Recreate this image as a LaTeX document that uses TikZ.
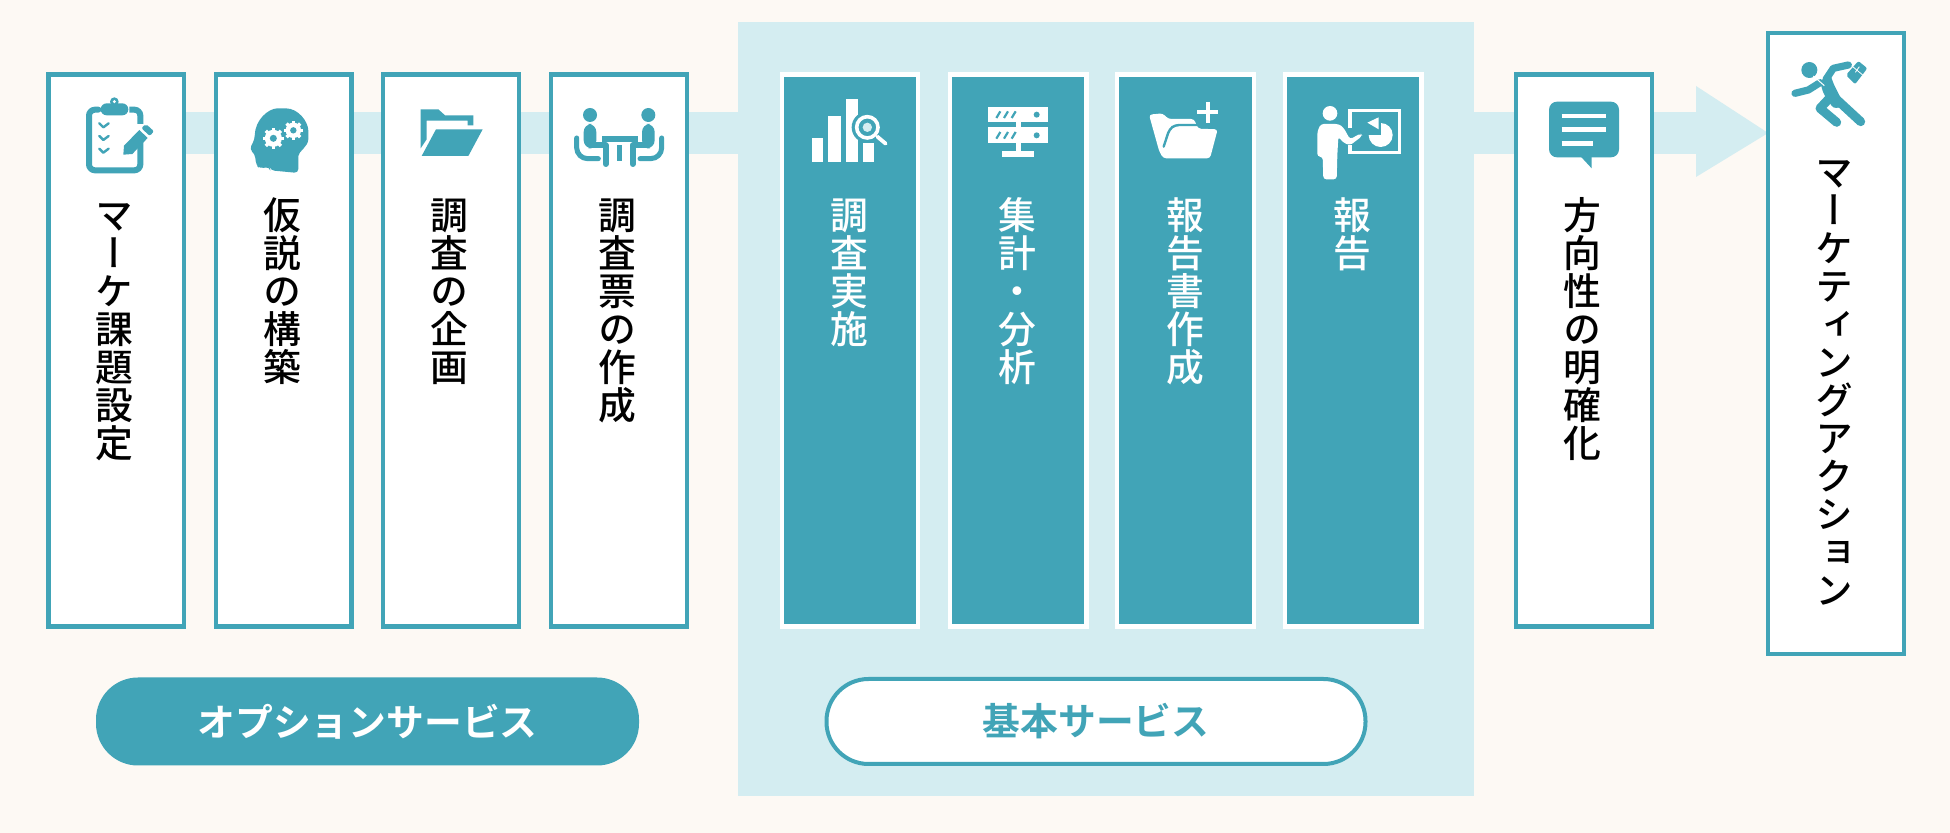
\documentclass[tikz,border=0pt]{standalone}
\usepackage{fontspec}
\usetikzlibrary{calc}
\setmainfont{Noto Sans CJK JP}
\newfontfamily\cjkv[RawFeature={+vert}]{Noto Sans CJK JP Medium}
\newfontfamily\cjkb{Noto Sans CJK JP Bold}
\definecolor{teal1}{HTML}{41A4B7}
\definecolor{light1}{HTML}{D4EDF1}
\definecolor{paper1}{HTML}{FDF9F4}
\pgfdeclarelayer{backlayer}
\pgfsetlayers{backlayer,main}
\tikzset{
  boxw/.style={draw=teal1,fill=white,line width=2.15pt,rectangle,minimum width=67.85pt,minimum height=276pt,inner sep=0pt,outer sep=0pt},
  boxt/.style={draw=white,fill=teal1,line width=2.15pt,rectangle,minimum width=68.3pt,minimum height=276pt,inner sep=0pt,outer sep=0pt},
  vtext/.style={anchor=north,align=center,inner sep=0pt,outer sep=0pt,font=\cjkv\fontsize{18.9pt}{19pt}\selectfont},
  pill/.style={rectangle,rounded corners=21pt,line width=2pt,minimum height=42.5pt,inner sep=0pt,font=\cjkb\fontsize{18.9pt}{20pt}\selectfont},
  t/.style={fill=teal1},
  w/.style={fill=white},
  ts/.style={draw=teal1,line cap=round,line join=round},
  ws/.style={draw=white,line cap=round,line join=round},
}
\newcommand{\fs}{\rule{0pt}{16.2pt}}
\newcommand{\gearw}[3]{%
  \foreach \a in {0,45,...,315}{\draw[white,line width=1.7pt] ($(#1,#2)+(\a:#3*0.7)$) -- ($(#1,#2)+(\a:#3)$);}
  \fill[white] (#1,#2) circle[radius=#3*0.8];
  \fill[teal1] (#1,#2) circle[radius=#3*0.33];}
\begin{document}
\begin{tikzpicture}[x=0.5pt,y=-0.5pt]
\useasboundingbox (0,0) rectangle (1950,833);

% boxes
\node[boxw] (b1) at (116.25,350.5) {};
\node[boxw] (b2) at (283.5,350.5) {};
\node[boxw] (b3) at (451,350.5) {};
\node[boxw] (b4) at (619,350.5) {};
\node[boxt] (c1) at (850,350.5) {};
\node[boxt] (c2) at (1018.25,350.5) {};
\node[boxt] (c3) at (1185.5,350.5) {};
\node[boxt] (c4) at (1353.25,350.5) {};
\node[boxw] (b5) at (1584,350.5) {};
\node[boxw,minimum height=310.4pt] (b6) at (1836,343.5) {};

% band and arrow (behind the boxes)
\begin{pgfonlayer}{backlayer}
\fill[paper1] (0,0) rectangle (1950,833);
\fill[light1] (737.5,22.5) rectangle (1474,796);
\coordinate (bs) at (b1.east |- 0,133);
\coordinate (be) at (1696,133);
\coordinate (tip) at (b6.west |- 0,133);
\draw[light1,line width=21pt] (bs) -- (be);
\fill[light1] (1696,86) -- (tip) -- (1696,177) -- cycle;
\end{pgfonlayer}

% labels
\node[vtext] (t1) at (114.5,197) {\fs マ\\ー\\ケ\\課\\題\\設\\定};
\node[vtext] (t2) at (282,197) {\fs 仮\\説\\の\\構\\築};
\node[vtext] (t3) at (449.5,197) {\fs 調\\査\\の\\企\\画};
\node[vtext] (t4) at (617.5,197) {\fs 調\\査\\票\\の\\作\\成};
\node[vtext,text=white] (t5) at (849.5,197) {\fs 調\\査\\実\\施};
\node[vtext,text=white] (t6) at (1017.5,197) {\fs 集\\計\\・\\分\\析};
\node[vtext,text=white] (t7) at (1185,197) {\fs 報\\告\\書\\作\\成};
\node[vtext,text=white] (t8) at (1352.5,197) {\fs 報\\告};
\node[vtext] (t9) at (1582.5,197) {\fs 方\\向\\性\\の\\明\\確\\化};
\node[vtext] (t10) at (1834.5,154) {\fs マ\\ー\\ケ\\テ\\ィ\\ン\\グ\\ア\\ク\\シ\\ョ\\ン};

% pills
\node[pill,fill=teal1,text=white,minimum width=271.5pt,minimum height=44pt] (p1) at (367.5,721.5) {オプションサービス};
\node[pill,draw=teal1,fill=white,text=teal1,minimum width=269.5pt] (p2) at (1096,721.5) {基本サービス};

% clipboard
\begin{scope}[shift={(60,80)},x=0.16667pt,y=-0.16667pt]
\draw[ts,line width=3pt,rounded corners=3pt] (115,89) -- (87,89) -- (87,271) -- (241,271) -- (241,188);
\draw[ts,line width=3pt,rounded corners=3pt,line cap=butt] (208,89) -- (241,89) -- (241,132);
\fill[t,rounded corners=3pt] (122,70) rectangle (205,106);
\fill[t] (163,65) circle[radius=13];
\fill[w] (163,65) circle[radius=5];
\foreach \yy in {130,168,206}{\draw[ts,line width=1.2pt] (118,\yy) -- (130,\yy+12) -- (146,\yy);}
\fill[t] (190,224) -- (192,197) -- (238,150) -- (263,174) -- (217,222) -- cycle;
\fill[t,rounded corners=1pt] (244,144) -- (258,132) -- (282,154) -- (269,168) -- cycle;
\end{scope}

% head with gears
\begin{scope}[shift={(60,80)},x=0.16667pt,y=-0.16667pt]
\fill[t,rounded corners=2pt] (715,279) -- (631,271) -- (628,260) -- (600,266) -- (588,255) -- (585,222) -- (568,208) -- (584,178) .. controls (585,120) and (625,85) .. (665,85) .. controls (715,85) and (745,125) .. (745,165) .. controls (745,200) and (715,215) .. (715,240) -- cycle;
\gearw{640}{175}{32}
\gearw{700}{151}{29}
\end{scope}

% open folder
\begin{scope}[shift={(400,80)},x=0.16667pt,y=-0.16667pt]
\fill[t] (62,88) -- (115,88) -- (135,106) -- (220,106) -- (220,136) -- (203,136) -- (203,122) -- (80,122) -- (80,178) -- (62,205) -- cycle;
\fill[t] (108,148) -- (248,148) -- (205,228) -- (65,228) -- cycle;
\end{scope}

% meeting
\begin{scope}[shift={(400,80)},x=0.16667pt,y=-0.16667pt]
\foreach \m/\sg in {0/1,1315/-1}{
\begin{scope}[shift={(\m,0)},xscale=\sg]
\fill[t] (570,105) circle[radius=21];
\fill[t,rounded corners=4pt] (551,132) rectangle (589,205);
\draw[ts,line width=3pt] (575,196) -- (617,196) -- (617,252);
\draw[ts,line width=2.5pt,rounded corners=5.5pt] (530,174) -- (530,236) -- (595,236);
\end{scope}}
\fill[t] (605,168) rectangle (715,186);
\fill[t] (650,196) rectangle (665,242);
\end{scope}

% bars and magnifier
\begin{scope}[shift={(790,80)},x=0.16667pt,y=-0.16667pt]
\fill[w] (65,175) rectangle (100,247);
\fill[w] (115,108) rectangle (152,247);
\fill[w] (167,58) rectangle (203,247);
\fill[w] (218,190) rectangle (253,247);
\fill[t] (232,142) circle[radius=47];
\draw[white,line width=1.8pt] (232,142) circle[radius=32];
\fill[light1] (232,142) circle[radius=14];
\draw[ws,line width=1.9pt] (262,170) -- (287,191);
\end{scope}

% server
\begin{scope}[shift={(790,80)},x=0.16667pt,y=-0.16667pt]
\fill[w] (595,80) rectangle (775,127);
\fill[w] (595,142) rectangle (775,190);
\foreach \yy in {104,166}{
  \foreach \xx in {625,648,671}{\draw[draw=teal1,line width=1.1pt] (\xx-6,\yy+10) -- (\xx+6,\yy-10);}
  \fill[t] (740,\yy) circle[radius=9];}
\fill[w] (678,125) rectangle (692,144);
\fill[w] (677,190) rectangle (692,225);
\fill[w] (637,214) rectangle (733,232);
\end{scope}

% folder plus
\begin{scope}[shift={(1130,80)},x=0.16667pt,y=-0.16667pt]
\fill[w,rounded corners=1.5pt] (57,104) -- (98,100) -- (115,117) -- (192,117) -- (204,146) -- (263,148) -- (240,235) -- (100,235) -- (88,215) -- cycle;
\draw[ts,line width=1.2pt,rounded corners=2pt] (101,200) -- (118,148) -- (135,135) -- (215,135);
\draw[white,line width=2pt] (233,66) -- (233,128);
\draw[white,line width=2pt] (202,97) -- (265,97);
\end{scope}

% presenter
\begin{scope}[shift={(1130,80)},x=0.16667pt,y=-0.16667pt]
\fill[w] (600,100) circle[radius=22];
\fill[w,rounded corners=1.5pt] (562,155) -- (572,132) -- (626,132) -- (640,142) -- (660,178) -- (692,160) -- (697,168) -- (660,196) -- (640,188) -- (625,170) -- (622,225) -- (620,298) -- (580,298) -- (578,230) -- (562,230) -- cycle;
\draw[white,line width=1.7pt] (660,145) -- (660,92) -- (808,92) -- (808,218) -- (660,218) -- (660,196);
\fill[w] (752,165) circle[radius=36];
\fill[t] (752,165) rectangle (705,120);
\fill[w] (746,148) -- (712,128) -- (746,112) -- cycle;
\end{scope}

% speech bubble
\begin{scope}[shift={(1440,20)},x=0.16667pt,y=-0.16667pt]
\fill[t,rounded corners=4pt] (327,245) rectangle (537,412);
\fill[t] (418,405) -- (455,445) -- (455,405) -- cycle;
\draw[white,line width=2.3pt] (365,288) -- (497,288);
\draw[white,line width=2.3pt] (365,329) -- (497,329);
\draw[white,line width=2.3pt] (365,370) -- (460,370);
\end{scope}

% runner
\begin{scope}[shift={(1770,50)},x=0.16667pt,y=-0.16667pt]
\fill[t] (118,60) circle[radius=24];
\draw[ts,line width=4.5pt] (180,130) -- (272,215);
\draw[ts,line width=4.5pt] (178,145) -- (150,175) -- (200,217);
\fill[t,rounded corners=1.5pt] (150,95) -- (180,70) -- (190,100) -- (225,170) -- (190,175) -- (160,130) -- cycle;
\draw[ts,line width=3.6pt] (168,88) -- (190,55) -- (235,45);
\draw[ts,line width=3.6pt] (75,130) -- (115,120) -- (150,98);
\draw[white,line width=0.5pt] (130,78) -- (163,107);
\fill[t,rounded corners=1pt] (265,33) -- (292,55) -- (255,103) -- (228,75) -- cycle;
\draw[white,line width=0.4pt] (248,50) -- (278,75);
\draw[white,line width=0.4pt] (268,50) -- (256,67);
\end{scope}
\end{tikzpicture}
\end{document}
